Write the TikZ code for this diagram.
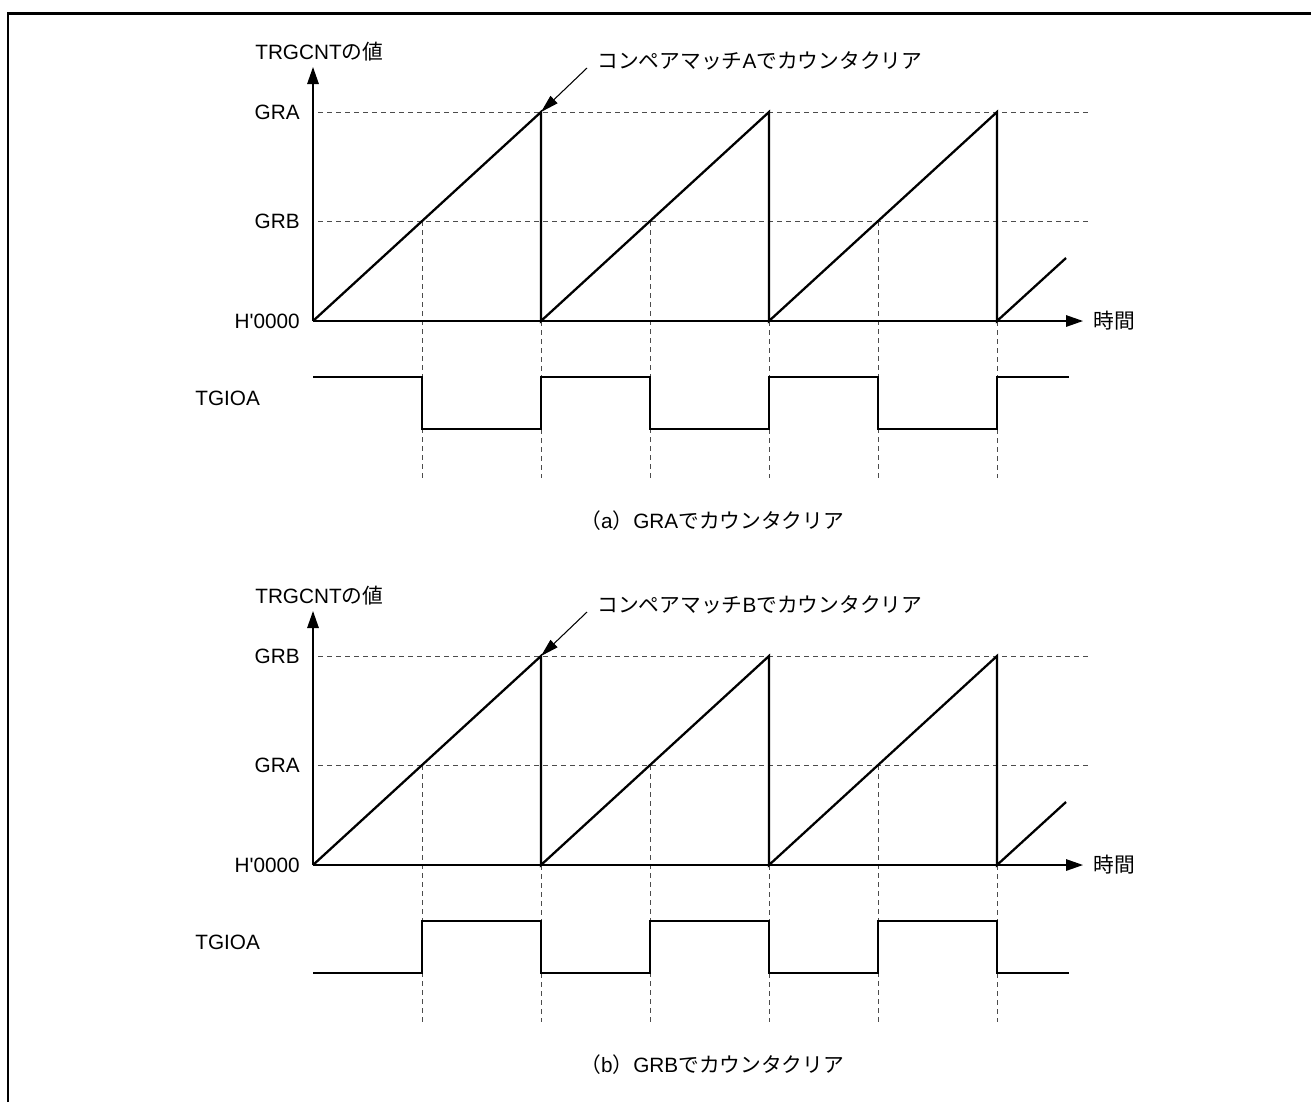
\documentclass[tikz,border=0pt]{standalone}
\usepackage{fontspec}
\setmainfont{Liberation Sans}
\newfontfamily\rawfont{Liberation Sans}
\newfontfamily\jpfont{Noto Sans CJK JP}
\usetikzlibrary{arrows.meta}

\tikzset{
  saw/.style={line width=1.3pt, line join=miter},
  axis/.style={line width=0.8pt, -{Triangle[length=3.4mm,width=2.3mm]}},
  guide/.style={gray!60!black, line width=0.55pt, dash pattern=on 1mm off 0.8mm},
  lbl/.style={inner sep=0pt},
}

\begin{document}
\begin{tikzpicture}[x=0.2mm, y=-0.2mm, font=\fontsize{11.8}{14}\selectfont]
    \useasboundingbox (0,0) rectangle (1311,1102);
    \draw[line width=1.7pt] (8,1102) -- (8,13) -- (1311,13);

    % two panels: (a) clear on GRA, (b) clear on GRB
    \foreach \oy/\topreg/\midreg/\mch/\sub/\sy/\ty in {0/GRA/GRB/A/a/377/429, 544/GRB/GRA/B/b/429/377} {
    \begin{scope}[shift={(0,\oy)}]
        \coordinate (O) at (313,321);
        \coordinate (peak) at (541,112);
        \coordinate (tail) at (587,68);

        \draw[guide] (318,112) -- (1090,112);
        \draw[guide] (318,221) -- (1090,221);
        \foreach \p in {541,769,997} {
            \draw[guide] (\p,321) -- (\p,478);
            \draw[guide] (\p-119,221) -- (\p-119,478);
        }

        \draw[axis] (O) -- (313,67);
        \draw[axis] (O) -- (1083,321);
        \draw[saw] (O) -- (peak) -- (541,321) -- (769,112) -- (769,321)
            -- (997,112) -- (997,321) -- (1066,258);
        \draw[saw] (313,\sy) -| (422,\ty) -| (541,\sy) -| (650,\ty) -| (769,\sy)
            -| (878,\ty) -| (997,\sy) -- (1069,\sy);

        \node[lbl, anchor=west] (ylab) at (255,52) {TRGCNT{\jpfont の値}};
        \node[lbl, anchor=east] (topreg) at (300,112) {\topreg};
        \node[lbl, anchor=east] (midreg) at (300,221) {\midreg};
        \node[lbl, anchor=east] (zero) at (300,321) {{\rawfont H'0000}};
        \node[lbl, anchor=west] (time) at (1093,321) {\jpfont 時間};
        \node[lbl, anchor=west] (sig) at (195,398) {TGIOA};
        \node[lbl, anchor=west] (msg) at (597,61) {{\jpfont コンペアマッチ}\mch{\jpfont でカウンタクリア}};
        \draw[line width=0.6pt, -{Triangle[length=3.6mm,width=2mm]}] (tail) -- (peak);
        \node[lbl, anchor=west] (cap) at (580,521) {{\jpfont （}\sub{\jpfont ）}\topreg{\jpfont でカウンタクリア}};
    \end{scope}
    }
\end{tikzpicture}
\end{document}
